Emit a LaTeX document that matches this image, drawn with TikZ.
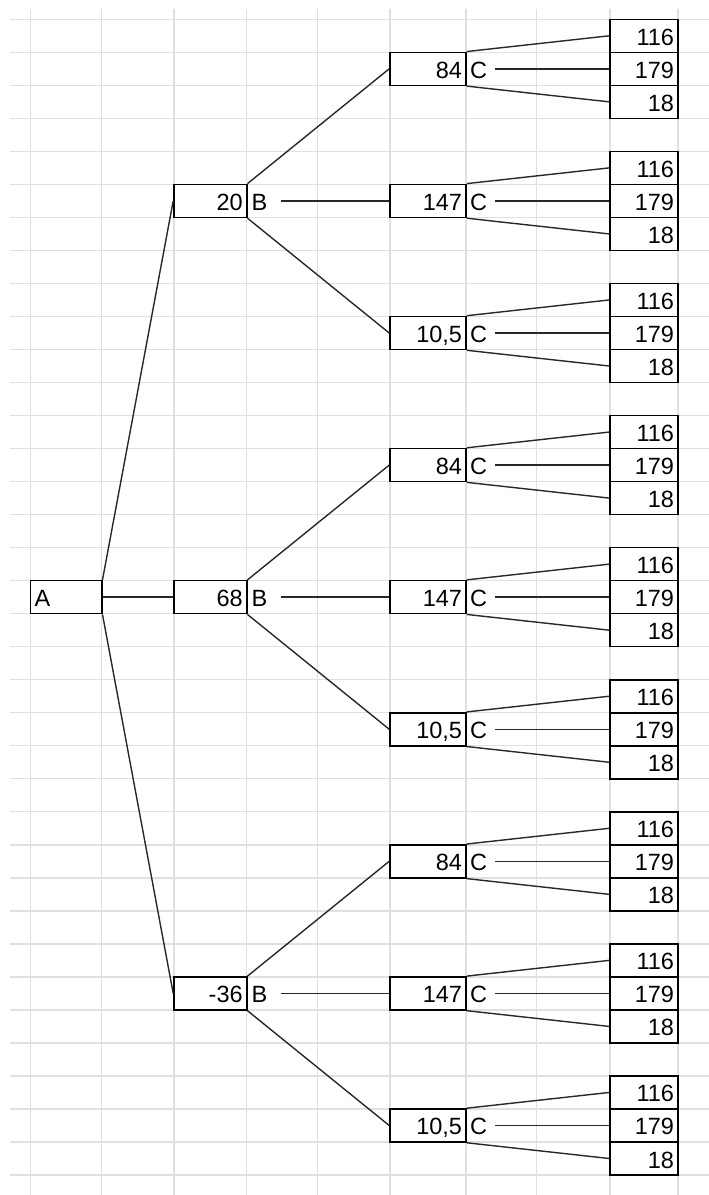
\documentclass[tikz,border=0pt]{standalone}
\usepackage{fontspec}
\setmainfont{Liberation Sans}
\definecolor{gridc}{RGB}{224,224,224}
\definecolor{linec}{RGB}{40,40,40}
\begin{document}
\begin{tikzpicture}[x=1pt,y=-1pt,
  cellfont/.style={font=\fontsize{23.5}{27}\selectfont},
  cell/.style={cellfont, draw=black, line width=1.6pt, minimum height=33pt,
    inner ysep=0pt, inner xsep=4pt, text height=19pt, text depth=0pt},
  abox/.style={cell, text width=63.2pt, align=left},
  bbox/.style={cell, text width=64.7pt, align=right},
  cbox/.style={cell, text width=68pt, align=right},
  lbox/.style={cell, text width=60pt, align=right},
  lab/.style={cellfont, inner sep=0pt, text height=19pt, text depth=0pt},
  conn/.style={draw=linec, line width=1.4pt},
  gridline/.style={draw=gridc, line width=1.4pt}]
\useasboundingbox (0,0) rectangle (709,1195);
% spreadsheet grid
\foreach \x in {30.5,101.7,174,246.7,317.3,390,466,536.7,610,678}
  \draw[gridline] (\x,9.3) -- (\x,1195);
\foreach \k in {0,...,35}
  \draw[gridline] (10,{19.3+33.02*\k}) -- (709,{19.3+33.02*\k});
% root
\node[abox] (A) at (66.1,{35.81+33.02*17}) {A};
\foreach \g/\r/\v in {1/5/20, 2/17/68, 3/29/-36} {
  \node[bbox] (B\g) at (210.35,{35.81+33.02*\r}) {\v};
  \node[lab, anchor=base west] (Bl\g) at ([xshift=4pt]B\g.base east) {B};
  \foreach \i/\cv in {1/84, 2/147, 3/{10,5}} {
    \pgfmathsetmacro\cr{\r+4*(\i-2)}
    \node[cbox] (C\g\i) at (428,{35.81+33.02*\cr}) {\cv};
    \node[lab, anchor=base west] (Cl\g\i) at ([xshift=3pt]C\g\i.base east) {C};
    \foreach \j/\lv in {1/116, 2/179, 3/18} {
      \pgfmathsetmacro\lr{\cr+\j-2}
      \node[lbox] (L\g\i\j) at (644,{35.81+33.02*\lr}) {\lv};
    }
    \draw[conn] (C\g\i.north east) -- (L\g\i1.west);
    \draw[conn] ([xshift=8pt]Cl\g\i.east |- L\g\i2.west) -- (L\g\i2.west);
    \draw[conn] (C\g\i.south east) -- (L\g\i3.west);
  }
  \draw[conn] (B\g.north east) -- (C\g1.west);
  \draw[conn] ([xshift=13pt]Bl\g.east |- C\g2.west) -- (C\g2.west);
  \draw[conn] (B\g.south east) -- (C\g3.west);
}
\draw[conn] (A.north east) -- (B1.west);
\draw[conn] (A.east) -- (B2.west);
\draw[conn] (A.south east) -- (B3.west);
\end{tikzpicture}
\end{document}
